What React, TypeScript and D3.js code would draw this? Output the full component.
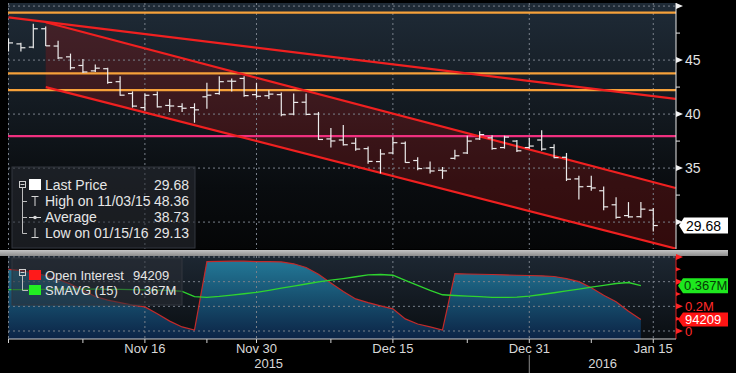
import React from 'react';
import * as d3 from 'd3';

// trading days shown on the chart (Oct 30 2015 .. Jan 15 2016)
const dates = [
  '10/30', '11/02', '11/03', '11/04', '11/05', '11/06', '11/09', '11/10', '11/11', '11/12', '11/13',
  '11/16', '11/17', '11/18', '11/19', '11/20', '11/23', '11/24', '11/25', '11/27', '11/30',
  '12/01', '12/02', '12/03', '12/04', '12/07', '12/08', '12/09', '12/10', '12/11', '12/14',
  '12/15', '12/16', '12/17', '12/18', '12/21', '12/22', '12/23', '12/24', '12/28', '12/29',
  '12/30', '12/31', '01/04', '01/05', '01/06', '01/07', '01/08', '01/11', '01/12', '01/13',
  '01/14', '01/15',
];

const open = [
  46.1, 46.5, 46.2, 47.9, 46.3, 45.3, 44.5, 44.0, 44.2, 43.0, 41.9,
  40.6, 41.8, 40.8, 40.7, 40.6, 41.6, 41.9, 43.05, 43.3, 41.8,
  41.7, 41.8, 40.0, 41.1, 40.0, 37.7, 37.6, 37.3, 36.8, 35.6,
  36.4, 37.3, 35.7, 35.0, 34.8, 35.9, 36.4, 37.7, 37.8, 36.9,
  37.5, 36.9, 37.6, 36.9, 36.0, 34.0, 33.3, 32.9, 31.6, 30.6,
  30.5, 31.1,
];
const high = [
  47.0, 46.6, 48.36, 48.1, 46.8, 45.6, 45.1, 44.6, 44.3, 43.5, 42.1,
  41.9, 42.1, 41.4, 41.0, 41.0, 42.9, 43.5, 43.3, 43.5, 42.9,
  42.2, 42.0, 41.9, 41.9, 40.2, 38.7, 39.0, 37.8, 37.0, 36.75,
  37.9, 37.45, 36.0, 35.6, 35.1, 36.7, 38.0, 38.4, 38.05, 38.0,
  37.6, 37.8, 38.5, 37.2, 36.4, 34.3, 34.3, 33.3, 32.3, 31.85,
  31.85, 31.3,
];
const low = [
  45.8, 45.8, 46.1, 46.3, 45.1, 44.1, 43.8, 43.9, 42.8, 41.7, 40.6,
  40.3, 40.6, 40.2, 40.2, 39.2, 40.5, 41.8, 42.1, 41.6, 41.5,
  41.4, 39.8, 39.9, 39.9, 37.6, 36.9, 37.1, 36.6, 35.4, 34.5,
  36.3, 35.5, 34.8, 34.5, 34.0, 35.8, 36.3, 37.6, 36.7, 36.8,
  36.5, 36.8, 36.6, 35.9, 33.8, 32.1, 32.9, 31.1, 30.3, 30.4,
  30.4, 29.13,
];
const close = [
  46.59, 46.14, 47.9, 46.32, 45.2, 44.29, 43.9, 44.25, 42.93, 41.75, 40.74,
  41.74, 40.67, 40.75, 40.54, 40.39, 41.75, 43.0, 43.04, 41.71, 41.65,
  41.85, 39.94, 41.08, 39.97, 37.65, 37.51, 37.16, 36.76, 35.62, 36.31,
  37.35, 35.52, 34.95, 34.73, 34.74, 36.14, 37.5, 38.1, 36.81, 37.87,
  36.6, 37.04, 36.76, 35.97, 33.97, 33.27, 33.16, 31.41, 30.44, 30.48,
  31.2, 29.68,
];

// open interest (millions), through 01/14
const openInterest = [
  0.5, 0.49, 0.47, 0.45, 0.42, 0.38, 0.33, 0.28, 0.25, 0.23, 0.21,
  0.195, 0.14, 0.08, 0.033, 0.008, 0.563, 0.565, 0.566, 0.566, 0.563,
  0.562, 0.56, 0.545, 0.515, 0.46, 0.39, 0.32, 0.26, 0.23, 0.204,
  0.18, 0.098, 0.057, 0.033, 0.008, 0.465, 0.462, 0.46, 0.458, 0.455,
  0.452, 0.45, 0.447, 0.442, 0.425, 0.4, 0.35, 0.29, 0.237, 0.16,
  0.0942,
];
const smavg15 = [
  0.335, 0.336, 0.337, 0.338, 0.339, 0.34, 0.34, 0.339, 0.338, 0.337, 0.336,
  0.334, 0.332, 0.33, 0.321, 0.278, 0.272, 0.28, 0.291, 0.302, 0.313,
  0.33, 0.347, 0.364, 0.381, 0.398, 0.412, 0.425, 0.44, 0.455, 0.458,
  0.452, 0.41, 0.37, 0.33, 0.294, 0.288, 0.283, 0.278, 0.273, 0.272,
  0.274, 0.283, 0.296, 0.31, 0.325, 0.34, 0.355, 0.37, 0.385, 0.393,
  0.367,
];

const orangeLevels = [49.4, 43.77, 42.22];
const pinkLevels = [37.96];
// trend lines as [index, price] pairs
const outerLine = [[0, 48.95], [53.8, 41.4]];
const channelTop = [[3, 48.5], [53.8, 33.15]];
const channelBottom = [[3, 42.5], [53.8, 27.55]];

const priceGrid = [50, 45, 40, 35, 30];
const priceLabels = [45, 40, 35];
const priceMinor = [47.5, 42.5, 37.5, 32.5];
const oiGrid = [0, 0.2, 0.4, 0.6];
const oiMinor = [0.1, 0.3, 0.5];

const xMajor = ['11/16', '11/30', '12/15', '12/31', '01/15'];
const xMajorLabels = ['Nov 16', 'Nov 30', 'Dec 15', 'Dec 31', 'Jan 15'];
const xMinor = ['10/30', '11/09', '11/23', '12/08', '12/23', '01/08'];

const legendRows = [
  { label: 'Last Price', value: '29.68' },
  { label: 'High on 11/03/15', value: '48.36' },
  { label: 'Average', value: '38.73' },
  { label: 'Low on 01/15/16', value: '29.13' },
];

const lastPrice = 29.68;
const lastOI = 0.0942;
const lastSma = 0.367;

const FONT = '"Liberation Sans", Arial, sans-serif';
const L = 8, R = 676;

export default function App() {
  const x = d3.scaleLinear().domain([0, 53.8]).range([8.5, 675.6]);
  const y = d3.scaleLinear().domain([27.6, 50.1]).range([248, 5]);
  const yo = d3.scaleLinear().domain([0, 0.6]).range([331, 257]);
  const xd = (d: string) => x(dates.indexOf(d));

  const ln = d3.line<number[]>().x(d => x(d[0])).y(d => y(d[1]));
  const channel = [...channelTop, ...[...channelBottom].reverse()];
  const chPath = ln(channel) + 'Z';

  const oiArea = d3.area<number>().x((_, i) => x(i)).y0(339).y1(d => yo(d));
  const oiLine = d3.line<number>().x((_, i) => x(i)).y(d => yo(d));
  const gridDash = '2,3';
  const gridCol = '#79808a';

  return (
    <svg width={736} height={373} style={{ position: 'absolute', left: 0, top: 0, background: '#000' }}
      fontFamily={FONT}>
      <defs>
        <linearGradient id="bgTop" x1="0" y1="3" x2="0" y2="249" gradientUnits="userSpaceOnUse">
          <stop offset="0" stopColor="#1f2b37" />
          <stop offset="0.4" stopColor="#141b22" />
          <stop offset="0.75" stopColor="#090c0f" />
          <stop offset="1" stopColor="#050607" />
        </linearGradient>
        <linearGradient id="bgBot" x1="0" y1="256" x2="0" y2="339" gradientUnits="userSpaceOnUse">
          <stop offset="0" stopColor="#1d2732" />
          <stop offset="1" stopColor="#0a0e12" />
        </linearGradient>
        <linearGradient id="teal" x1="0" y1="257" x2="0" y2="339" gradientUnits="userSpaceOnUse">
          <stop offset="0" stopColor="#247c9b" />
          <stop offset="0.5" stopColor="#17506f" />
          <stop offset="1" stopColor="#0c2446" />
        </linearGradient>
        <linearGradient id="sep" x1="0" y1="250" x2="0" y2="256" gradientUnits="userSpaceOnUse">
          <stop offset="0" stopColor="#c4c4c4" />
          <stop offset="1" stopColor="#8c8c8c" />
        </linearGradient>
        <clipPath id="clipTop"><rect x={L} y={3} width={R - L} height={246} /></clipPath>
        <clipPath id="clipBot"><rect x={L} y={256} width={R - L} height={83} /></clipPath>
      </defs>

      {/* panels */}
      <rect x={L} y={3} width={R - L} height={246} fill="url(#bgTop)" />
      <rect x={0} y={250} width={728} height={6} fill="url(#sep)" />
      <rect x={L} y={256} width={R - L} height={83} fill="url(#bgBot)" />

      {/* top panel */}
      <g clipPath="url(#clipTop)">
        <path d={chPath} fill="#8e1414" fillOpacity={0.33} />
        {priceGrid.map(p => (
          <line key={p} x1={L} x2={R} y1={y(p)} y2={y(p)} stroke={gridCol} strokeDasharray={gridDash} />
        ))}
        {[dates[0], ...xMajor].map(d => (
          <line key={d} x1={xd(d)} x2={xd(d)} y1={3} y2={249} stroke={gridCol} strokeDasharray={gridDash} />
        ))}
        {orangeLevels.map(p => (
          <line key={p} x1={L} x2={R} y1={y(p)} y2={y(p)} stroke="#f6a13a" strokeWidth={2.2} />
        ))}
        {pinkLevels.map(p => (
          <line key={p} x1={L} x2={R} y1={y(p)} y2={y(p)} stroke="#f0307f" strokeWidth={2.2} />
        ))}
        {[outerLine, channelTop, channelBottom].map((l, i) => (
          <path key={i} d={ln(l) as string} stroke="#f02020" strokeWidth={2.2} fill="none" />
        ))}
        {dates.map((d, i) => (
          <g key={d} stroke="#ececec" strokeWidth={1.2}>
            <line x1={x(i)} x2={x(i)} y1={y(high[i])} y2={y(low[i])} />
            <line x1={x(i) - 4.5} x2={x(i)} y1={y(open[i])} y2={y(open[i])} />
            <line x1={x(i)} x2={x(i) + 4.5} y1={y(close[i])} y2={y(close[i])} />
          </g>
        ))}
      </g>

      {/* bottom panel */}
      <g clipPath="url(#clipBot)">
        <path d={oiArea(openInterest) as string} fill="url(#teal)" />
        {oiGrid.map(v => (
          <line key={v} x1={L} x2={R} y1={yo(v)} y2={yo(v)} stroke={gridCol} strokeDasharray={gridDash} />
        ))}
        {[dates[0], ...xMajor].map(d => (
          <line key={d} x1={xd(d)} x2={xd(d)} y1={256} y2={339} stroke={gridCol} strokeDasharray={gridDash} />
        ))}
        <path d={oiLine(openInterest) as string} fill="none" stroke="#c42a2a" strokeWidth={1.2} />
        <path d={oiLine(smavg15) as string} fill="none" stroke="#2fd42f" strokeWidth={1.3} />
      </g>

      {/* right price axis */}
      <line x1={R} x2={R} y1={3} y2={249} stroke="#e8e8e8" />
      {priceGrid.map(p => (
        <path key={p} d={`M${R},${y(p) - 3}L${R + 7},${y(p)}L${R},${y(p) + 3}Z`} fill="#f2f2f2" />
      ))}
      {priceMinor.map(p => (
        <line key={p} x1={R} x2={R + 4} y1={y(p)} y2={y(p)} stroke="#e8e8e8" />
      ))}
      {priceLabels.map(p => (
        <text key={p} x={R + 9} y={y(p)} dy="0.36em" fontSize={14} fill="#e2e2e2">{p}</text>
      ))}
      <path d={`M${R + 3},${y(lastPrice)}L${R + 8},${y(lastPrice) - 8}H728V${y(lastPrice) + 8}H${R + 8}Z`} fill="#fff" />
      <text x={R + 10} y={y(lastPrice)} dy="0.36em" fontSize={14} fill="#000">{lastPrice.toFixed(2)}</text>

      {/* right OI axis */}
      <line x1={R} x2={R} y1={256} y2={339} stroke="#e02020" />
      {oiGrid.map(v => (
        <path key={v} d={`M${R},${yo(v) - 3}L${R + 7},${yo(v)}L${R},${yo(v) + 3}Z`} fill="#ff2424" />
      ))}
      {oiMinor.map(v => (
        <path key={v} d={`M${R},${yo(v) - 2}L${R + 5},${yo(v)}L${R},${yo(v) + 2}Z`} fill="#ff2424" />
      ))}
      <text x={R + 9} y={yo(0.2)} dy="0.36em" fontSize={13} fill="#ff2a2a">0.2M</text>
      <text x={R + 9} y={yo(0)} dy="0.36em" fontSize={13} fill="#ff2a2a">0</text>
      <path d={`M${R + 2},${yo(lastSma)}L${R + 7},${yo(lastSma) - 7.5}H728V${yo(lastSma) + 7.5}H${R + 7}Z`} fill="#1ee81e" />
      <text x={R + 8} y={yo(lastSma)} dy="0.36em" fontSize={13} fill="#063a06">0.367M</text>
      <path d={`M${R + 2},${yo(lastOI)}L${R + 7},${yo(lastOI) - 7}H728V${yo(lastOI) + 7}H${R + 7}Z`} fill="#ff1414" />
      <text x={R + 9} y={yo(lastOI)} dy="0.36em" fontSize={13} fill="#fff">94209</text>

      {/* x axis */}
      <line x1={L} x2={R} y1={339} y2={339} stroke="#d2d2d2" />
      {[...xMinor, ...xMajor].map(d => (
        <line key={d} x1={xd(d)} x2={xd(d)} y1={339} y2={343} stroke="#d2d2d2" />
      ))}
      {xMajor.map((d, i) => (
        <text key={d} x={xd(d)} y={353} textAnchor="middle" fontSize={13} fill="#d8d8d8">{xMajorLabels[i]}</text>
      ))}
      <line x1={xd('12/31')} x2={xd('12/31')} y1={355} y2={373} stroke="#8a8a8a" />
      <text x={(L + xd('12/31')) / 2} y={368} textAnchor="middle" fontSize={13} fill="#d8d8d8">2015</text>
      <text x={(xd('12/31') + R) / 2} y={368} textAnchor="middle" fontSize={13} fill="#d8d8d8">2016</text>

      {/* price legend */}
      <g>
        <rect x={12} y={167} width={183} height={81} fill="#2a2e34" fillOpacity={0.55} stroke="#33373e" />
        <rect x={19.5} y={181.5} width={6} height={6} fill="none" stroke="#cfcfcf" />
        <line x1={20.5} x2={24.5} y1={184.5} y2={184.5} stroke="#cfcfcf" />
        <path d="M22.5,187.5V233.5M22.5,201.5H27M22.5,217.5H27M22.5,233.5H27" stroke="#bdbdbd" fill="none" />
        <rect x={29} y={179} width={12} height={11} fill="#fff" />
        <path d="M31.5,196.5H38.5M35,196.5V206" stroke="#d8d8d8" fill="none" />
        <path d="M29,217.5H41" stroke="#d8d8d8" />
        <circle cx={35} cy={217.5} r={1.8} fill="#d8d8d8" />
        <path d="M35,228V237.5M31.5,237.5H38.5" stroke="#d8d8d8" fill="none" />
        {legendRows.map((r, i) => (
          <g key={r.label} fontSize={14} fill="#e6e6e6">
            <text x={45} y={190 + i * 16}>{r.label}</text>
            <text x={189} y={190 + i * 16} textAnchor="end">{r.value}</text>
          </g>
        ))}
      </g>

      {/* OI legend */}
      <g>
        <rect x={12} y={258} width={170} height={47} fill="#2a2e34" fillOpacity={0.55} stroke="#33373e" />
        <rect x={19.5} y={269.5} width={6} height={6} fill="none" stroke="#cfcfcf" />
        <line x1={20.5} x2={24.5} y1={272.5} y2={272.5} stroke="#cfcfcf" />
        <path d="M22.5,275.5V290.5H28" stroke="#bdbdbd" fill="none" />
        <rect x={29} y={270} width={12} height={10} fill="#ff1a1a" />
        <rect x={29} y={285} width={12} height={10} fill="#22ee22" />
        <g fontSize={13} fill="#e6e6e6">
          <text x={45} y={280}>Open Interest</text>
          <text x={133} y={280}>94209</text>
          <text x={45} y={295}>SMAVG (15)</text>
          <text x={133} y={295}>0.367M</text>
        </g>
      </g>
    </svg>
  );
}
